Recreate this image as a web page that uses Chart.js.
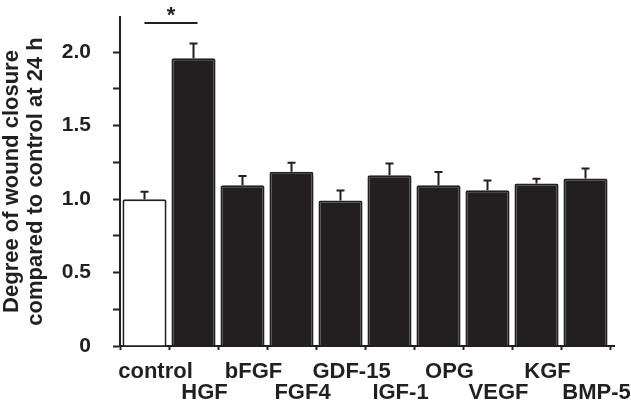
<!DOCTYPE html>
<html>
<head>
<meta charset="utf-8">
<script src="https://cdn.jsdelivr.net/npm/chart.js@4"></script>
<style>
  html, body { margin: 0; padding: 0; background: #fff; }
  #wrap { width: 631px; height: 409px; }
</style>
</head>
<body>
<div id="wrap"><canvas id="chart" width="631" height="409"></canvas></div>
<script>
// data
const categories = ['control', 'HGF', 'bFGF', 'FGF4', 'GDF-15', 'IGF-1', 'OPG', 'VEGF', 'KGF', 'BMP-5'];
const means = [1.00, 1.96, 1.095, 1.186, 0.99, 1.163, 1.095, 1.06, 1.107, 1.141];
const upperErrors = [0.05, 0.10, 0.062, 0.062, 0.068, 0.08, 0.089, 0.066, 0.032, 0.068];
const yTickValues = [0, 0.25, 0.5, 0.75, 1.0, 1.25, 1.5, 1.75, 2.0];
const yTitle = ['Degree of wound closure', 'compared to control at 24 h'];
const significance = { from: 0, to: 1, level: 2.2, mark: '*' };

const ink = '#231f20';
const font = 'Arial, "Liberation Sans", sans-serif';

// staggered labels: odd ones go to the second row
const xLabels = categories.map((c, i) => (i % 2 === 0 ? [c, ''] : ['', c]));

const errorBars = {
  id: 'errorBars',
  afterDatasetsDraw(chart) {
    const ctx = chart.ctx;
    const y = chart.scales.y;
    const meta = chart.getDatasetMeta(0);
    ctx.save();
    ctx.strokeStyle = ink;
    ctx.lineWidth = 2;
    meta.data.forEach((bar, i) => {
      const top = y.getPixelForValue(means[i]);
      const end = y.getPixelForValue(means[i] + upperErrors[i]);
      ctx.beginPath();
      ctx.moveTo(bar.x, top);
      ctx.lineTo(bar.x, end);
      ctx.moveTo(bar.x - 4, end);
      ctx.lineTo(bar.x + 4, end);
      ctx.stroke();
    });

    // significance bracket
    const a = meta.data[significance.from].x;
    const b = meta.data[significance.to].x + 4;
    const by = y.getPixelForValue(significance.level);
    ctx.beginPath();
    ctx.moveTo(a, by);
    ctx.lineTo(b, by);
    ctx.stroke();
    ctx.fillStyle = ink;
    ctx.font = 'bold 22px ' + font;
    ctx.textAlign = 'center';
    ctx.textBaseline = 'alphabetic';
    ctx.fillText(significance.mark, (a + b) / 2, by - 1);

    // x axis runs a little past the last bar
    const xa = chart.scales.x;
    ctx.beginPath();
    ctx.moveTo(xa.right - 1, xa.top);
    ctx.lineTo(xa.right + 5, xa.top);
    ctx.stroke();
    ctx.restore();
  }
};

new Chart(document.getElementById('chart'), {
  type: 'bar',
  data: {
    labels: xLabels,
    datasets: [{
      data: means,
      backgroundColor: means.map((v, i) => (i === 0 ? '#ffffff' : ink)),
      borderColor: ink,
      borderWidth: 2,
      borderRadius: 2,
      borderSkipped: 'bottom',
      barPercentage: 0.9,
      categoryPercentage: 1.0
    }]
  },
  options: {
    responsive: false,
    animation: false,
    devicePixelRatio: 1,
    layout: { padding: { left: 0, right: 21, top: 17, bottom: 0 } },
    plugins: {
      legend: { display: false },
      tooltip: { enabled: false }
    },
    scales: {
      x: {
        grid: {
          drawOnChartArea: false,
          drawTicks: true,
          tickLength: 4,
          tickWidth: 2,
          tickColor: ink
        },
        border: { color: ink, width: 2 },
        ticks: {
          color: ink,
          font: { family: font, size: 22, weight: 'bold', lineHeight: 0.96 },
          padding: 11,
          labelOffset: 11,
          maxRotation: 0,
          autoSkip: false
        },
        afterFit(scale) {
          scale.height = 63;
          scale.paddingLeft = 0;
          scale.paddingRight = 0;
        }
      },
      y: {
        min: 0,
        max: 2.24,
        afterBuildTicks(scale) {
          scale.ticks = yTickValues.map(v => ({ value: v }));
        },
        grid: {
          drawOnChartArea: false,
          drawTicks: true,
          tickLength: 7,
          tickWidth: 2,
          tickColor: ink
        },
        border: { color: ink, width: 2 },
        ticks: {
          color: ink,
          font: { family: font, size: 21, weight: 'bold' },
          padding: 22,
          callback(value) {
            if (value === 0) return '0';
            return Math.abs(value * 2 - Math.round(value * 2)) < 1e-9 ? value.toFixed(1) : '';
          }
        },
        title: {
          display: true,
          text: yTitle,
          color: ink,
          font: { family: font, size: 22, weight: 'bold', lineHeight: 1.1 },
          padding: { top: 0, bottom: 0 }
        },
        afterFit(scale) {
          scale.width = 120;
          scale.paddingTop = 0;
          scale.paddingBottom = 0;
        }
      }
    }
  },
  plugins: [errorBars]
});
</script>
</body>
</html>
